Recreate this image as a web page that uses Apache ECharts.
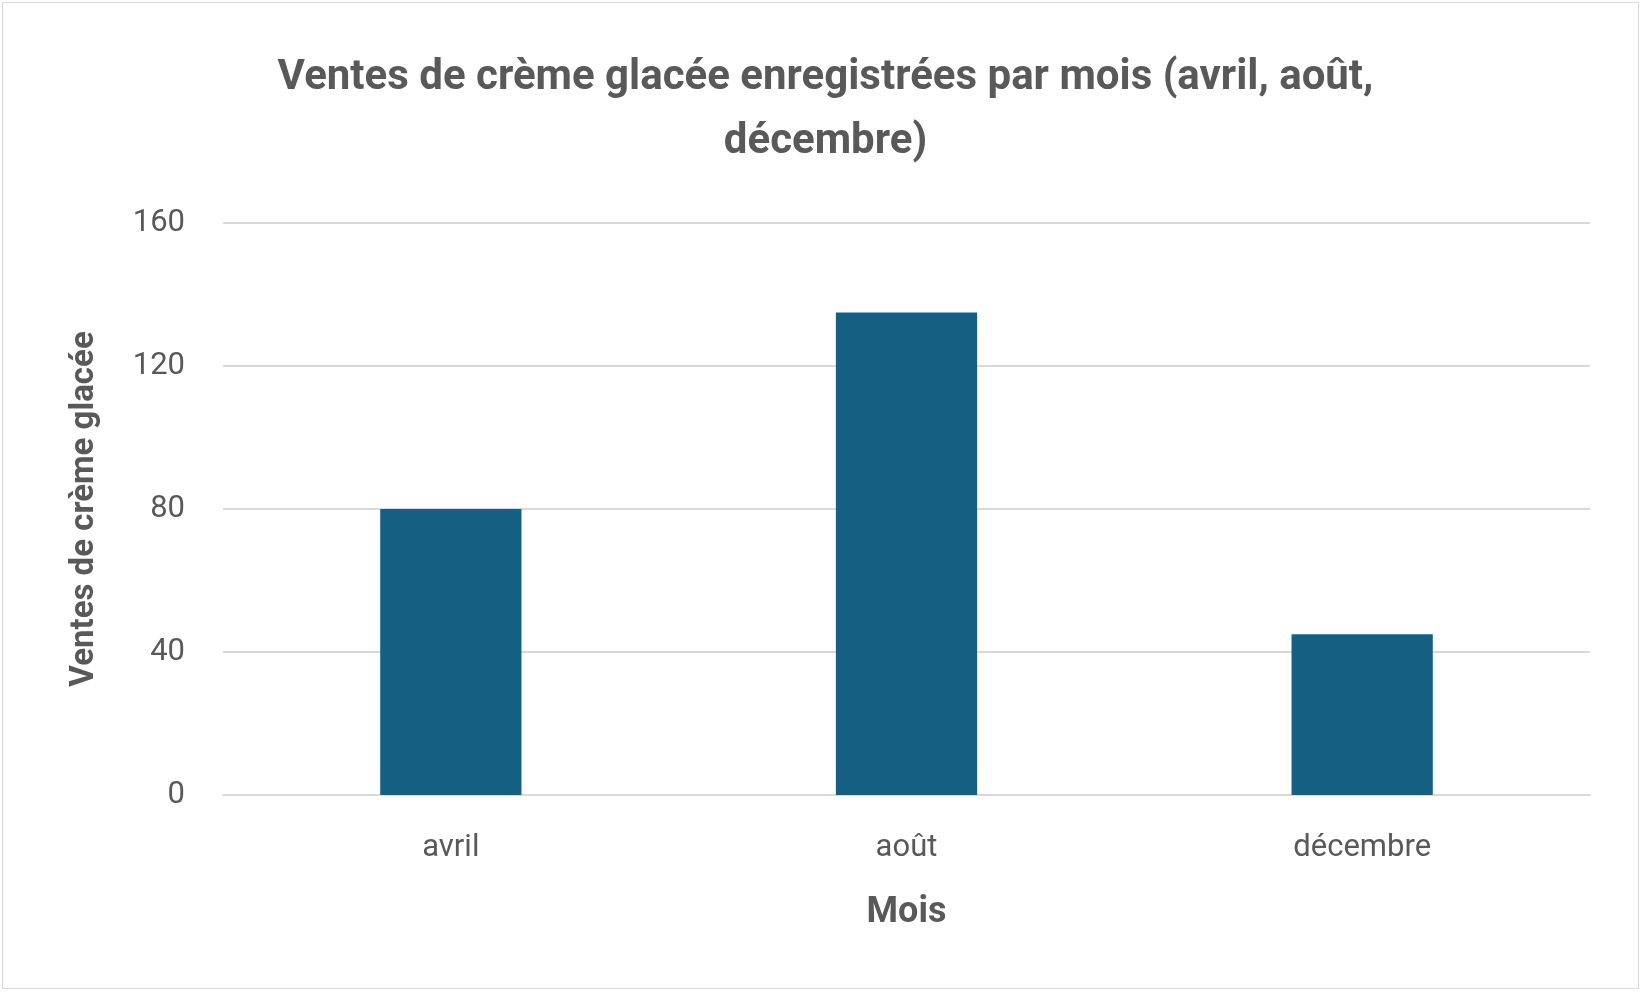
<!DOCTYPE html>
<html>
<head>
<meta charset="utf-8">
<script src="https://cdn.jsdelivr.net/npm/echarts@6/dist/echarts.min.js"></script>
<style>
  html, body { margin: 0; padding: 0; background: #fff; }
  #chart { position: absolute; left: 2px; top: 2px; width: 1637px; height: 987px;
           border: 1.5px solid #d9d9d9; box-sizing: border-box; }
</style>
</head>
<body>
<div id="chart"></div>
<script>
// données
const months = ['avril', 'août', 'décembre']
const sales = [80, 135, 45]
const yTicks = { min: 0, max: 160, interval: 40 }

const chart = echarts.init(document.getElementById('chart'))
chart.setOption({
  animation: false,
  textStyle: { fontFamily: 'Roboto, "Noto Sans", sans-serif' },
  title: {
    text: 'Ventes de crème glacée enregistrées par mois (avril, août,\ndécembre)',
    left: '50%',
    top: 38,
    textAlign: 'center',
    textStyle: { fontSize: 42, fontWeight: 'bold', color: '#595959', lineHeight: 64 }
  },
  grid: { left: 220, right: 48, top: 220, bottom: 193 },
  xAxis: {
    type: 'category',
    data: months,
    name: 'Mois',
    nameLocation: 'middle',
    nameGap: 100,
    nameTextStyle: { fontSize: 36, fontWeight: 'bold', color: '#595959' },
    axisLine: { lineStyle: { color: '#d9d9d9', width: 2 } },
    axisTick: { show: false },
    axisLabel: { fontSize: 31, color: '#595959', margin: 38 }
  },
  yAxis: {
    type: 'value',
    min: yTicks.min,
    max: yTicks.max,
    interval: yTicks.interval,
    name: 'Ventes de crème glacée',
    nameLocation: 'middle',
    nameGap: 122,
    nameTextStyle: { fontSize: 33, fontWeight: 'bold', color: '#595959' },
    axisLine: { show: false },
    axisTick: { show: false },
    axisLabel: { fontSize: 31, color: '#595959', margin: 38 },
    splitLine: { lineStyle: { color: '#d9d9d9', width: 2 } }
  },
  series: [{
    type: 'bar',
    data: sales,
    barWidth: '31%',
    itemStyle: { color: '#156082' }
  }]
})
</script>
</body>
</html>
